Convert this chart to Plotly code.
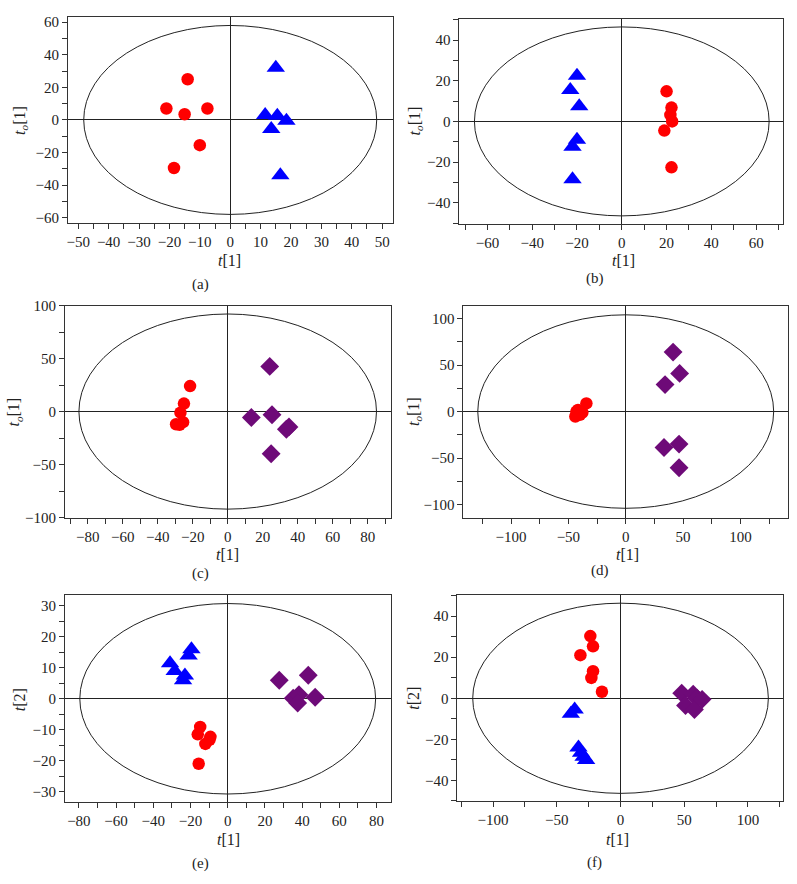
import plotly.graph_objects as go

W, H = 797, 884
RED = "#ff0000"
BLUE = "#0000ff"
PURPLE = "#6e0a78"
FONT = "Liberation Serif"

# ---------------- data ----------------
# panel (a)
a_red_x = [-14, -21, -15, -7.5, -10, -18.5]
a_red_y = [25, 7, 3.5, 7, -15.5, -29.5]
a_blue_x = [15, 11.5, 15.5, 18.5, 13.5, 16.5]
a_blue_y = [32, 3, 2.5, -0.5, -5.5, -34]
a_ellipse = [48.2, 58]

# panel (b)
b_blue_x = [-20, -23, -19, -20, -22, -22]
b_blue_y = [22.5, 15.5, 7.5, -9, -12.5, -28.5]
b_red_x = [20, 22.2, 21.7, 22.5, 19, 22.2]
b_red_y = [14.8, 6.8, 3.2, 0, -4.5, -22.6]
b_ellipse = [65.8, 46.5]

# panel (c)
c_red_x = [-21.5, -25, -27, -29.5, -27.5, -25.5]
c_red_y = [24, 7.5, -1, -12, -12.5, -10]
c_pur_x = [24, 13.5, 25.3, 33.5, 35, 24.8]
c_pur_y = [42.6, -5.6, -3, -16.7, -14.5, -39.8]
c_ellipse = [85, 92]

# panel (d)
d_red_x = [-34.3, -43, -43.9, -40, -37.8, -41.6]
d_red_y = [8.8, 0, -5.3, -3.5, -1, 1.8]
d_pur_x = [41.3, 47, 34.3, 33.4, 46.5, 46.5]
d_pur_y = [63.9, 41, 29, -38.6, -35, -60.4]
d_ellipse = [129, 104]

# panel (e)
e_blue_x = [-19.5, -21, -31, -28.5, -23, -24]
e_blue_y = [16, 14, 11.5, 9, 7.5, 6]
e_red_x = [-14.8, -16.1, -9.3, -9.8, -12, -15.6]
e_red_y = [-9.1, -11.5, -12.3, -13.3, -14.6, -21]
e_pur_x = [27.7, 43.3, 35.2, 38.3, 37.6, 47]
e_pur_y = [6, 7.6, 0.2, 1.3, -1.4, 0.5]
e_ellipse = [79.5, 30.8]

# panel (f)
f_red_x = [-23.7, -21.6, -31.5, -21.6, -22.9, -14.6]
f_red_y = [30.3, 25.3, 21, 13.2, 9.9, 3.2]
f_blue_x = [-36, -39, -33, -31, -29, -27]
f_blue_y = [-5.5, -7.5, -24, -26.5, -28.5, -30]
f_pur_x = [48, 51, 57, 60, 58, 64]
f_pur_y = [2.5, -3.5, 2, 0, -5.5, -0.5]
f_ellipse = [116, 46.3]

panel_labels = ["(a)", "(b)", "(c)", "(d)", "(e)", "(f)"]
x_titles = ["<i>t</i>[1]"] * 6
y_titles = ["<i>t</i><sub><i>o</i></sub>[1]"] * 4 + ["<i>t</i>[2]"] * 2

# ---------------- layout geometry (pixels) ----------------
boxes = [  # left, right, top, bottom
    (67, 392, 9, 219),
    (459, 783, 11, 220),
    (64, 390, 303, 519),
    (463, 788, 303, 519),
    (64, 390, 598, 809),
    (457, 783, 598, 808),
]
xranges = [[-53.4, 53.4], [-72.5, 72], [-93, 93], [-141.5, 141.5], [-87.5, 87.5], [-128, 127.5]]
yranges = [[-63.3, 63.3], [-50.5, 50.5], [-100, 100], [-114, 114], [-33.5, 33.5], [-50.2, 50.2]]
xdt = [(10, 5), (20, 10), (20, 10), (50, 25), (20, 10), (50, 25)]
ydt = [(20, 10), (20, 10), (50, 25), (50, 25), (10, 5), (20, 10)]
xtitle_pos = [(229, 257), (623, 257), (227, 557), (627, 557), (228, 847), (617, 847)]
ytitle_pos = [(20, 114), (415, 115), (14, 411), (414, 411), (18, 704), (413, 703)]
caption_pos = [(200, 282), (595, 275), (200, 576), (600, 573), (200, 871), (594, 870)]

def px(x):
    return x / W

def py(y):
    return 1 - y / H

fig = go.Figure()

series = [
    [(a_red_x, a_red_y, RED, "circle"), (a_blue_x, a_blue_y, BLUE, "triangle-up")],
    [(b_blue_x, b_blue_y, BLUE, "triangle-up"), (b_red_x, b_red_y, RED, "circle")],
    [(c_red_x, c_red_y, RED, "circle"), (c_pur_x, c_pur_y, PURPLE, "diamond")],
    [(d_red_x, d_red_y, RED, "circle"), (d_pur_x, d_pur_y, PURPLE, "diamond")],
    [(e_blue_x, e_blue_y, BLUE, "triangle-up"), (e_red_x, e_red_y, RED, "circle"),
     (e_pur_x, e_pur_y, PURPLE, "diamond")],
    [(f_red_x, f_red_y, RED, "circle"), (f_blue_x, f_blue_y, BLUE, "triangle-up"),
     (f_pur_x, f_pur_y, PURPLE, "diamond")],
]
ellipses = [a_ellipse, b_ellipse, c_ellipse, d_ellipse, e_ellipse, f_ellipse]
sizes = {"circle": 12.5, "triangle-up": 16, "diamond": 14.5}

annotations = []
shapes = []
for i in range(6):
    n = "" if i == 0 else str(i + 1)
    xa, ya = "x" + n, "y" + n
    l, r, t, b = boxes[i]
    axis_common = dict(
        showgrid=False, zeroline=True, zerolinecolor="#222", zerolinewidth=1,
        showline=True, linecolor="#333", linewidth=1, mirror=True,
        ticks="outside", ticklen=5, tickcolor="#333", tick0=0,
        tickfont=dict(family=FONT, size=15, color="#222"),
    )
    fig.layout["xaxis" + n] = dict(
        axis_common, domain=[px(l), px(r)], range=xranges[i], anchor=ya,
        dtick=xdt[i][0],
        minor=dict(dtick=xdt[i][1], tick0=0, ticks="outside", ticklen=5, tickcolor="#333"),
    )
    fig.layout["yaxis" + n] = dict(
        axis_common, domain=[py(b), py(t)], range=yranges[i], anchor=xa,
        dtick=ydt[i][0],
        minor=dict(dtick=ydt[i][1], tick0=0, ticks="outside", ticklen=5, tickcolor="#333"),
    )
    rx, ry = ellipses[i]
    shapes.append(dict(type="circle", xref=xa, yref=ya, x0=-rx, x1=rx, y0=-ry, y1=ry,
                       line=dict(color="#222", width=1), layer="below"))
    for xs, ys, col, sym in series[i]:
        fig.add_trace(go.Scatter(
            x=xs, y=ys, mode="markers", xaxis=xa, yaxis=ya, showlegend=False,
            marker=dict(color=col, symbol=sym, size=sizes[sym], line=dict(width=0)),
        ))
    annotations.append(dict(text=x_titles[i], x=px(xtitle_pos[i][0]), y=py(xtitle_pos[i][1]),
                            xref="paper", yref="paper", showarrow=False,
                            font=dict(family=FONT, size=16, color="#222"),
                            xanchor="center", yanchor="middle"))
    annotations.append(dict(text=y_titles[i], x=px(ytitle_pos[i][0]), y=py(ytitle_pos[i][1]),
                            xref="paper", yref="paper", showarrow=False, textangle=-90,
                            font=dict(family=FONT, size=16, color="#222"),
                            xanchor="center", yanchor="middle"))
    annotations.append(dict(text=panel_labels[i], x=px(caption_pos[i][0]), y=py(caption_pos[i][1]),
                            xref="paper", yref="paper", showarrow=False,
                            font=dict(family=FONT, size=15, color="#222"),
                            xanchor="center", yanchor="middle"))

fig.update_layout(
    width=W, height=H, margin=dict(l=0, r=0, t=0, b=0),
    paper_bgcolor="white", plot_bgcolor="white",
    shapes=shapes, annotations=annotations,
)

fig.write_html("out.html", config={"displayModeBar": False},
               post_script="document.body.style.margin='0';document.body.style.overflow='hidden';")
